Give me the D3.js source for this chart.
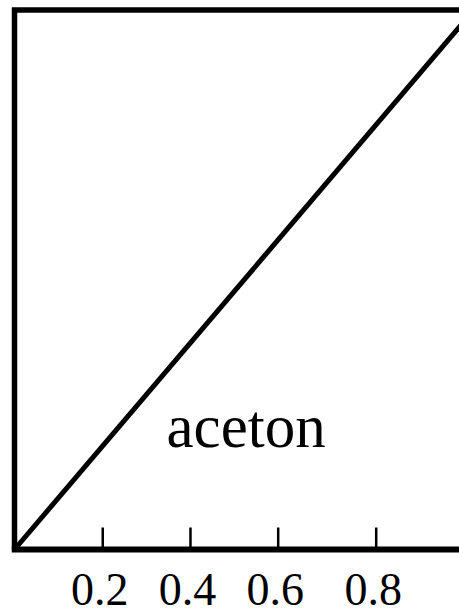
<!DOCTYPE html>
<html>
<head>
<meta charset="utf-8">
<script src="https://cdn.jsdelivr.net/npm/d3@7"></script>
<style>
  html, body { margin: 0; padding: 0; background: #fff; overflow: hidden; }
  svg { display: block; }
</style>
</head>
<body>
<svg id="chart"></svg>
<script>
// data
const tickValues = [0.2, 0.4, 0.6, 0.8];
const tickLabels = ['0.2', '0.4', '0.6', '0.8'];
const lineX = [0, 1];
const lineY = [0, 1];
const seriesLabel = 'aceton';

function draw() {
  const width = 459;
  const height = 615;

  // ticks in the original are not evenly spaced, so the scale is piecewise
  const x = d3.scaleLinear()
    .domain([0, 0.6, 1])
    .range([14.5, 277.7, 473.7]);

  const y = d3.scaleLinear()
    .domain([0, 1])
    .range([549.5, 10]);

  const svg = d3.select('#chart')
    .attr('width', width)
    .attr('height', height)
    .attr('viewBox', [0, 0, width, height]);

  // frame: left and top
  svg.append('path')
    .attr('fill', 'none')
    .attr('stroke', '#000')
    .attr('stroke-width', 5.5)
    .attr('d', `M${x(0)},${y(0)}V${y(1)}H${x(1)}`);

  // x axis
  const xAxis = g => g
    .attr('transform', `translate(0,${y(0)})`)
    .call(d3.axisTop(x)
      .tickValues(tickValues)
      .tickFormat('')
      .tickSizeOuter(0)
      .tickSizeInner(22))
    .call(g => g.select('.domain')
      .attr('stroke-width', 6)
      .attr('d', `M${x(0) - 2.75},0H${x(1)}`))
    .call(g => g.selectAll('.tick line').attr('stroke-width', 2.5));

  svg.append('g').call(xAxis);

  svg.append('g')
    .selectAll('text')
    .data(tickValues)
    .join('text')
      .attr('x', d => x(d) - 2.5)
      .attr('y', 605)
      .attr('text-anchor', 'middle')
      .attr('font-family', '"Liberation Serif", "Times New Roman", serif')
      .attr('font-size', 46)
      .text((d, i) => tickLabels[i]);

  // the line
  const line = d3.line()
    .x(d => x(d[0]))
    .y(d => y(d[1]));

  svg.append('path')
    .datum(lineX.map((v, i) => [v, lineY[i]]))
    .attr('fill', 'none')
    .attr('stroke', '#000')
    .attr('stroke-width', 5)
    .attr('d', line);

  svg.append('text')
    .attr('x', x(0.528))
    .attr('y', y(0.19))
    .attr('text-anchor', 'middle')
    .attr('font-family', '"Liberation Serif", "Times New Roman", serif')
    .attr('font-size', 61)
    .text(seriesLabel);
}

window.onload = draw;
</script>
</body>
</html>
